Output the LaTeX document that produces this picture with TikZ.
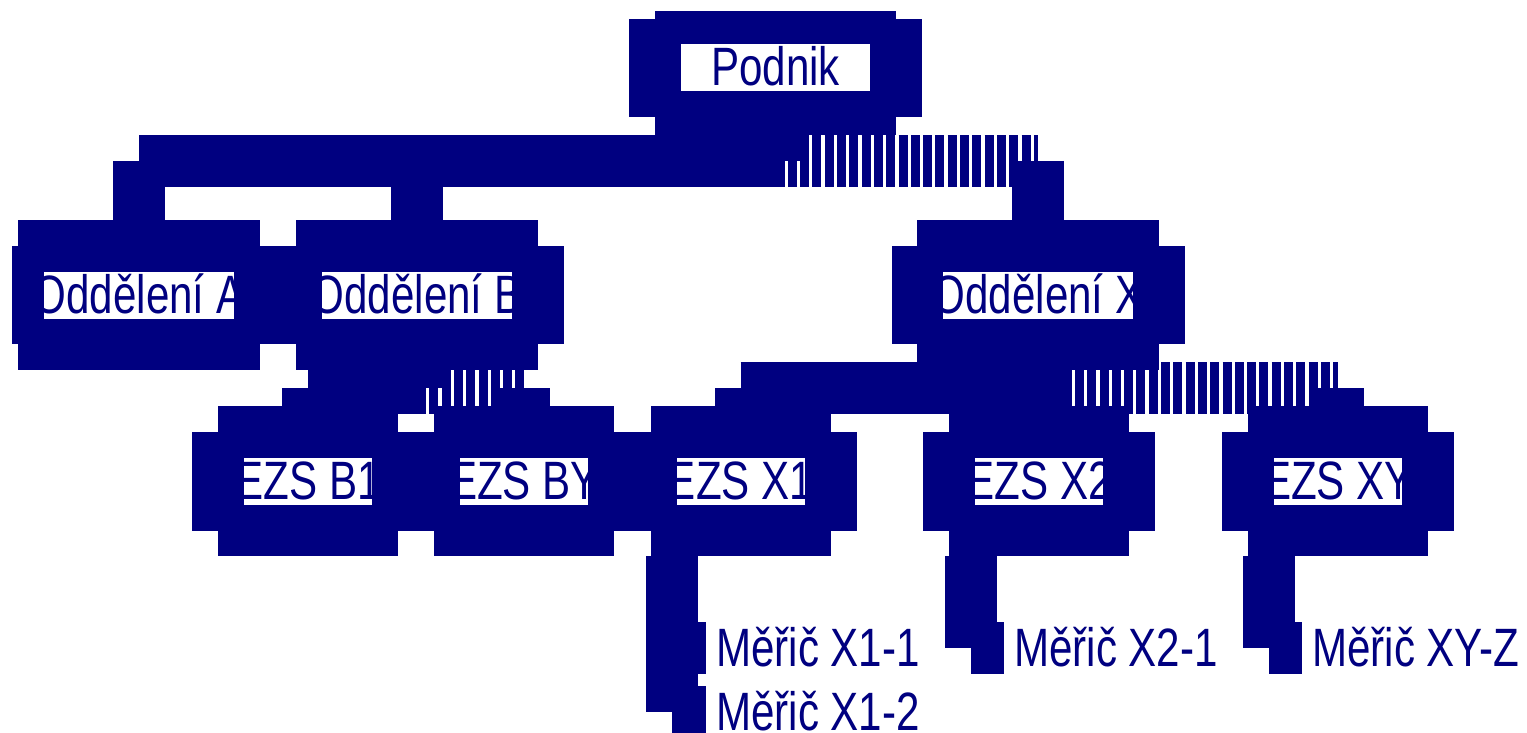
\documentclass[tikz,border=0pt]{standalone}
\usepackage{fontspec}
\setmainfont{Liberation Sans}[FakeStretch=0.78]
\definecolor{navy}{RGB}{0,0,128}
\newcommand{\cut}[1]{\makebox[0pt]{#1}}
\tikzset{
  box/.style={rectangle, fill=navy, inner sep=0pt, outer sep=0pt},
  oddtall/.style={box, minimum width=242pt, minimum height=150pt},
  oddwide/.style={box, minimum width=293pt, minimum height=98pt},
  ezstall/.style={box, minimum width=180pt, minimum height=150pt},
  ezswide/.style={box, minimum width=232pt, minimum height=99pt},
  card/.style={rectangle, fill=white, text=navy, inner sep=0pt, outer sep=0pt,
    text height=41.5pt, text depth=5.5pt, font=\fontsize{54}{60}\selectfont},
  meter/.style={text=navy, anchor=west, inner xsep=10pt, inner ysep=0pt,
    text height=36pt, text depth=0pt, font=\fontsize{54}{60}\selectfont},
  link/.style={draw=navy, line width=52pt},
  dashlink/.style={link, dash pattern=on 9pt off 3.3pt}
}
\begin{document}
\begin{tikzpicture}[x=1pt, y=-1pt]
	\useasboundingbox (0,0) rectangle (1527,733);
	%Podnik
	\node[box, minimum width=241pt, minimum height=124pt] (podnik) at (775.5,73) {};
	\node[box, minimum width=293pt, minimum height=98pt] (podnik-w) at (775.5,68) {};
	\node[card, minimum width=189pt] (podnik-t) at (775.5,67.5) {\cut{Podnik}};
	%Oddeleni
	\node[oddtall] (oddA) at (139,295) {};
	\node[oddwide, minimum width=274pt, xshift=10pt] (oddA-w) at (oddA) {};
	\node[card, minimum width=190pt] (oddA-t) at (oddA) {\cut{Oddělení A}};
	\foreach \n/\x/\t in {oddB/417/Oddělení B, oddX/1038/Oddělení X} {
		\node[oddtall] (\n) at (\x,295) {};
		\node[oddwide] (\n-w) at (\n) {};
		\node[card, minimum width=190pt] (\n-t) at (\n) {\cut{\t}};
	}
	%EZS
	\foreach \n/\x/\t in {ezsB1/308/EZS B1, ezsBY/524/EZS BY, ezsX1/740.5/EZS X1, ezsX2/1039/EZS X2, ezsXY/1338/EZS XY} {
		\node[ezstall] (\n) at (\x,481) {};
		\node[ezswide] (\n-w) at (\n) {};
		\node[card, minimum width=128pt] (\n-t) at (\n) {\cut{\t}};
	}
	%Meric
	\node[meter] (m11) at (706,648) {Měřič X1-1};
	\node[meter] (m12) at (706,712) {Měřič X1-2};
	\node[meter] (m21) at (1004,648) {Měřič X2-1};
	\node[meter] (mXY) at (1302,648) {Měřič XY-Z};
	%Spoje
	\coordinate (busTop) at (0,161);
	\coordinate (busB) at (0,388);
	\coordinate (busX) at (0,388);
	\draw[link] (podnik.south) -- (podnik.south |- busTop);
	\draw[link] (oddA.north |- busTop) -- (podnik.south |- busTop);
	\draw[dashlink] (podnik.south |- busTop) -- (oddX.north |- busTop);
	\foreach \n in {oddA, oddB, oddX} \draw[link] (\n.north |- busTop) -- (\n.north);
	\draw[link] (oddB.south) -- (oddB.south |- busB);
	\draw[link] (ezsB1.north |- busB) -- (oddB.south |- busB);
	\draw[dashlink] (oddB.south |- busB) -- (ezsBY.north |- busB);
	\foreach \n in {ezsB1, ezsBY} \draw[link] (\n.north |- busB) -- (\n.north);
	\draw[link] (oddX.south) -- (oddX.south |- busX);
	\draw[link] (ezsX1.north |- busX) -- (oddX.south |- busX);
	\draw[dashlink] (oddX.south |- busX) -- (ezsXY.north |- busX);
	\foreach \n in {ezsX1, ezsX2, ezsXY} \draw[link] (\n.north |- busX) -- (\n.north);
	\coordinate (x1drop) at ([xshift=21pt]ezsX1.south west);
	\coordinate (x2drop) at ([xshift=22pt]ezsX2.south west);
	\coordinate (xYdrop) at ([xshift=20.5pt]ezsXY.south west);
	\draw[link] (x1drop) -- (x1drop |- m12.west);
	\draw[link] (x1drop |- m11.west) -- (m11.west);
	\draw[link] (x1drop |- m12.west) -- (m12.west);
	\draw[link] (x2drop) -- (x2drop |- m21.west);
	\draw[link] (x2drop |- m21.west) -- (m21.west);
	\draw[link] (xYdrop) -- (xYdrop |- mXY.west);
	\draw[link] (xYdrop |- mXY.west) -- (mXY.west);
\end{tikzpicture}
\end{document}
